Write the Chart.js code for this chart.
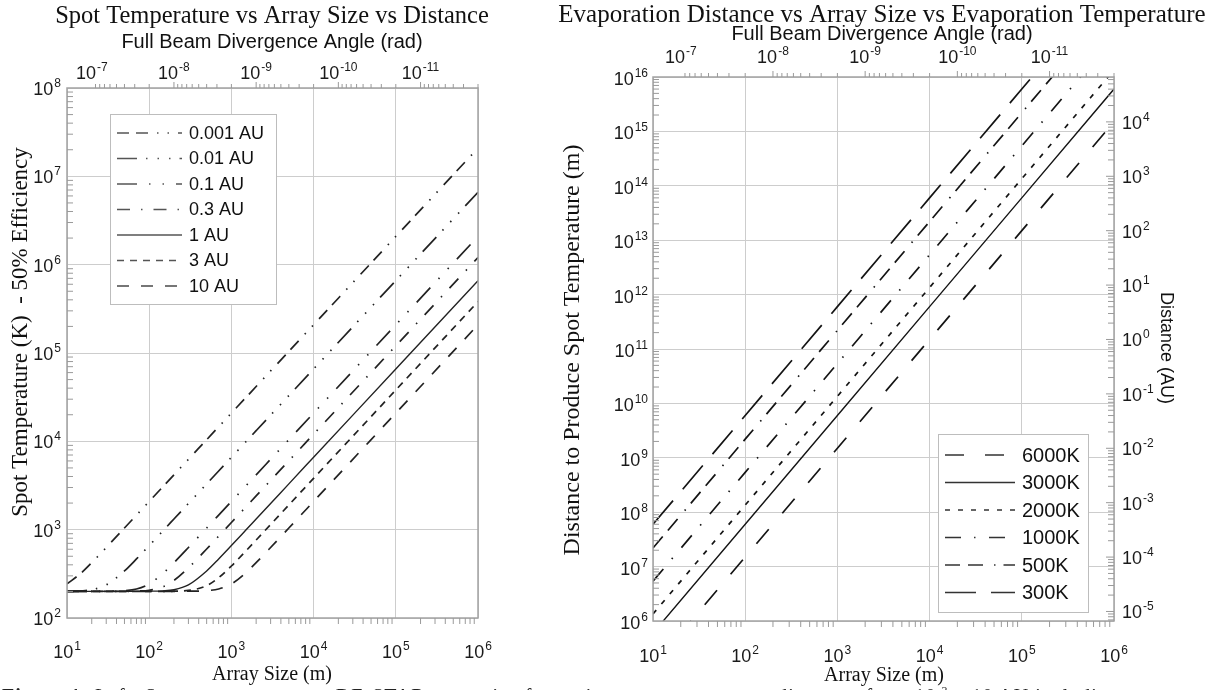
<!DOCTYPE html>
<html><head><meta charset="utf-8">
<script src="https://cdn.jsdelivr.net/npm/chart.js@4.4.1/dist/chart.umd.min.js"></script>
<style>
html,body{margin:0;padding:0;background:#fff;width:1220px;height:690px;overflow:hidden;position:relative;}
#wrapL{position:absolute;left:0;top:0;width:545px;height:690px;}
#wrapR{position:absolute;left:545px;top:0;width:675px;height:690px;}
canvas{display:block;}
#caption{position:absolute;left:2px;top:686px;font:20px/20px "Liberation Serif","Times New Roman",serif;color:#222;white-space:nowrap;letter-spacing:1px;}
#caption sup{font-size:12px;line-height:0;}
</style></head><body>
<div id="wrapL"><canvas id="cL" width="545" height="690"></canvas></div>
<div id="wrapR"><canvas id="cR" width="675" height="690"></canvas></div>
<div id="caption"><b>Figure 1:</b> Left: Spot temperature vs. DE-STAR array size for various source-to-target distances from 10<sup>-3</sup> – 10 AU including</div>
<script>
// ---------------- DATA ----------------
// Left panel: spot temperature (K) vs array size (m)
const ARRAY_SIZE_L = [10, 15, 20, 30, 50, 70, 100, 150, 200, 300, 500, 700, 1000, 1500, 2000, 3000, 5000, 10000, 100000, 1000000];
const SERIES_L = ['0.001 AU', '0.01 AU', '0.1 AU', '0.3 AU', '1 AU', '3 AU', '10 AU'];
const T_0001AU = [243, 325, 423, 628, 1044, 1461, 2088, 3132, 4175, 6263, 10438, 14614, 20877, 31315, 41754, 62630, 104384, 208768, 2088000, 20880000];
const T_001AU  = [201, 203, 209, 237, 341, 466, 661, 990, 1320, 1980, 3300, 4620, 6600, 9900, 13200, 19800, 33000, 66000, 660000, 6600000];
const T_01AU   = [200, 200, 200, 201, 204, 213, 243, 325, 423, 628, 1044, 1461, 2087, 3131, 4174, 6261, 10435, 20870, 208700, 2087000];
const T_03AU   = [200, 200, 200, 200, 200, 202, 206, 227, 266, 370, 604, 844, 1205, 1808, 2410, 3615, 6025, 12050, 120500, 1205000];
const T_1AU    = [200, 200, 200, 200, 200, 200, 201, 203, 209, 237, 341, 466, 661, 990, 1320, 1980, 3300, 6600, 66000, 660000];
const T_3AU    = [200, 200, 200, 200, 200, 200, 200, 200, 201, 205, 232, 286, 388, 573, 763, 1143, 1905, 3810, 38100, 381000];
const T_10AU   = [200, 200, 200, 200, 200, 200, 200, 200, 200, 201, 204, 213, 243, 325, 423, 628, 1044, 2087, 20870, 208700];
const TEMPS_L = [T_0001AU, T_001AU, T_01AU, T_03AU, T_1AU, T_3AU, T_10AU];

// Right panel: distance (m) vs array size (m)
const ARRAY_SIZE_R = [10, 100, 1000, 10000, 100000, 1000000];
const SERIES_R = ['6000K', '3000K', '2000K', '1000K', '500K', '300K'];
const D_6000K = [1.5e5, 1.5e7, 1.5e9, 1.5e11, 1.5e13, 1.5e15];
const D_3000K = [6.0e5, 6.0e7, 6.0e9, 6.0e11, 6.0e13, 6.0e15];
const D_2000K = [1.35e6, 1.35e8, 1.35e10, 1.35e12, 1.35e14, 1.35e16];
const D_1000K = [5.4e6, 5.4e8, 5.4e10, 5.4e12, 5.4e14, 5.4e16];
const D_500K  = [2.2e7, 2.2e9, 2.2e11, 2.2e13, 2.2e15, 2.2e17];
const D_300K  = [6.0e7, 6.0e9, 6.0e11, 6.0e13, 6.0e15, 6.0e17];
const DIST_R = [D_6000K, D_3000K, D_2000K, D_1000K, D_500K, D_300K];

// Tick labels (exponents of ten)
const X_EXPS = [1, 2, 3, 4, 5, 6];
const Y_EXPS_L = [2, 3, 4, 5, 6, 7, 8];
const Y_EXPS_R = [6, 7, 8, 9, 10, 11, 12, 13, 14, 15, 16];
const ANGLE_EXPS = [-7, -8, -9, -10, -11];
const AU_EXPS = [-5, -4, -3, -2, -1, 0, 1, 2, 3, 4];
const ANGLE_RANGE = [2e-12, 2e-7];   // divergence angle at array 1e6 m and 10 m
const AU_IN_M = 1.496e11;

// ---------------- STYLES ----------------
const SANS = '"Liberation Sans", Arial, Helvetica, sans-serif';
const SERIF = '"Liberation Serif", "Times New Roman", serif';
const DASH_L = [[12,7,12,9,1.5,9,1.5,9],[20,9,1.5,10,1.5,10,1.5,9],[20,12,1.5,12,1.5,12],[13,11,1.5,11],[],[7,6],[12,12]];
const DASH_R = [[19,21],[],[5,8],[16,13,1.5,13.5],[15,8,15,11,1.5,8],[31,15]];

Chart.defaults.font.family = SANS;

function decades(a, b) { const t = []; for (let e = a; e <= b; e++) t.push({value: Math.pow(10, e)}); return t; }

function logAxis(pos, min, max, ticksFn, grid, extra) {
  return Object.assign({
    type: 'logarithmic', position: pos, min: min, max: max, bounds: 'data',
    afterBuildTicks: s => { if (ticksFn) s.ticks = ticksFn(); },
    ticks: {display: false},
    grid: grid ? {display: true, color: '#cdcdcd', lineWidth: 1, drawTicks: false} : {display: false, drawTicks: false},
    border: {display: false},
    afterFit: s => { if (pos === 'left' || pos === 'right') s.width = 0; else s.height = 0; }
  }, extra || {});
}

function drawPow(ctx, exp, x, y, align) {
  const big = '18px ' + SANS, small = '12px ' + SANS;
  ctx.font = big; const wb = ctx.measureText('10').width;
  ctx.font = small; const we = ctx.measureText(String(exp)).width;
  const total = wb + 1 + we;
  let x0 = x;
  if (align === 'center') x0 = x - total / 2; else if (align === 'right') x0 = x - total;
  ctx.textAlign = 'left'; ctx.textBaseline = 'alphabetic'; ctx.fillStyle = '#1a1a1a';
  ctx.font = big; ctx.fillText('10', x0, y);
  ctx.font = small; ctx.fillText(String(exp), x0 + wb + 1, y - 8);
}

function eachMinor(scale, lo, hi, fn) {
  for (let n = lo; n <= hi; n++) for (let k = 1; k <= 9; k++) {
    const v = k * Math.pow(10, n);
    if (v < scale.min * 0.9999 || v > scale.max * 1.0001) continue;
    fn(scale.getPixelForValue(v), k === 1);
  }
}

function tickLine(ctx, x1, y1, x2, y2) { ctx.beginPath(); ctx.moveTo(x1, y1); ctx.lineTo(x2, y2); ctx.stroke(); }

function text(ctx, s, x, y, font, align, rot) {
  ctx.save(); ctx.translate(x, y); if (rot) ctx.rotate(rot);
  ctx.font = font; ctx.fillStyle = '#111'; ctx.textAlign = align || 'center'; ctx.textBaseline = 'alphabetic';
  ctx.fillText(s, 0, 0); ctx.restore();
}

function drawLegend(ctx, box, rows, labels, dashes, x1, x2, tx, font, color, lw) {
  ctx.save();
  ctx.fillStyle = '#fff'; ctx.fillRect(box[0], box[1], box[2] - box[0], box[3] - box[1]);
  ctx.strokeStyle = '#bdbdbd'; ctx.lineWidth = 1;
  ctx.strokeRect(box[0] + 0.5, box[1] + 0.5, box[2] - box[0], box[3] - box[1]);
  labels.forEach((lab, i) => {
    const y = rows[0] + i * rows[1];
    ctx.strokeStyle = color; ctx.lineWidth = lw; ctx.setLineDash(dashes[i]);
    tickLine(ctx, x1, y, x2, y);
    ctx.setLineDash([]);
    ctx.font = font; ctx.fillStyle = '#111'; ctx.textAlign = 'left'; ctx.textBaseline = 'middle';
    ctx.fillText(lab, tx, y + 1);
  });
  ctx.restore();
}

const frame = {
  id: 'frame',
  afterDatasetsDraw(chart) {
    const {ctx, chartArea: a} = chart;
    ctx.save(); ctx.strokeStyle = '#a3a3a3'; ctx.lineWidth = 1.5;
    ctx.strokeRect(a.left, a.top, a.right - a.left, a.bottom - a.top);
    ctx.restore();
  }
};

// ---------------- LEFT CHART ----------------
const decorL = {
  id: 'decorL',
  afterDraw(chart) {
    const {ctx, chartArea: a, scales} = chart;
    const xs = scales.x, ys = scales.y, xt = scales.xTop;
    ctx.save();
    ctx.strokeStyle = '#9a9a9a'; ctx.lineWidth = 1;
    eachMinor(ys, 2, 7, (p, maj) => { if (!maj) tickLine(ctx, a.left, p, a.left + 6, p); });
    eachMinor(xs, 1, 5, (p, maj) => { if (!maj) tickLine(ctx, p, a.bottom, p, a.bottom + 6); });
    eachMinor(xt, -12, -8, (p, maj) => tickLine(ctx, p, a.top, p, a.top - (maj ? 6 : 4)));
    ctx.restore();
    Y_EXPS_L.forEach(e => drawPow(ctx, e, 61, ys.getPixelForValue(Math.pow(10, e)) + 7, 'right'));
    X_EXPS.forEach(e => drawPow(ctx, e, xs.getPixelForValue(Math.pow(10, e)), 658, 'center'));
    ANGLE_EXPS.forEach(e => drawPow(ctx, e, xt.getPixelForValue(Math.pow(10, e)), 79, 'center'));
    text(ctx, 'Spot Temperature vs Array Size vs Distance', 272, 23, '24.5px ' + SERIF);
    text(ctx, 'Full Beam Divergence Angle (rad)', 272, 48, '20px ' + SANS);
    text(ctx, 'Array Size (m)', 272, 680, '20px ' + SERIF);
    text(ctx, 'Spot Temperature (K)  - 50% Efficiency', 27, 332, '23px ' + SERIF, 'center', -Math.PI / 2);
    drawLegend(ctx, [110, 114, 276, 304], [133, 25.5], SERIES_L, DASH_L, 117, 182, 189, '18px ' + SANS, '#555', 1.6);
  }
};

new Chart(document.getElementById('cL'), {
  type: 'line',
  data: {
    datasets: SERIES_L.map((name, i) => ({
      label: name,
      data: ARRAY_SIZE_L.map((x, j) => ({x: x, y: TEMPS_L[i][j]})),
      borderColor: '#222', borderWidth: i === 4 ? 1.4 : 1.7, borderDash: DASH_L[i],
      pointRadius: 0, fill: false, cubicInterpolationMode: 'monotone'
    }))
  },
  options: {
    responsive: false, animation: false, devicePixelRatio: 1,
    layout: {padding: {left: 67, top: 88, right: 67, bottom: 72}},
    plugins: {legend: {display: false}, tooltip: {enabled: false}, title: {display: false}},
    scales: {
      x: logAxis('bottom', 10, 1e6, () => decades(1, 6), true),
      y: logAxis('left', 1e2, 1e8, () => decades(2, 8), true),
      xTop: logAxis('top', ANGLE_RANGE[0], ANGLE_RANGE[1], null, false, {reverse: true})
    }
  },
  plugins: [frame, decorL]
});

// ---------------- RIGHT CHART ----------------
const OFF = 545;
const decorR = {
  id: 'decorR',
  afterDraw(chart) {
    const {ctx, chartArea: a, scales} = chart;
    const xs = scales.x, ys = scales.y, xt = scales.xTop, ya = scales.yAU;
    ctx.save();
    ctx.strokeStyle = '#9a9a9a'; ctx.lineWidth = 1;
    eachMinor(ys, 6, 15, (p, maj) => { if (!maj) tickLine(ctx, a.left, p, a.left + 6, p); });
    eachMinor(ya, -6, 4, (p, maj) => tickLine(ctx, a.right, p, a.right - (maj ? 8 : 6), p));
    eachMinor(xs, 1, 5, (p, maj) => { if (!maj) tickLine(ctx, p, a.bottom, p, a.bottom + 6); });
    eachMinor(xt, -12, -8, (p, maj) => tickLine(ctx, p, a.top, p, a.top - (maj ? 6 : 4)));
    ctx.restore();
    Y_EXPS_R.forEach(e => drawPow(ctx, e, 648 - OFF, ys.getPixelForValue(Math.pow(10, e)) + 8, 'right'));
    AU_EXPS.forEach(e => drawPow(ctx, e, 1122 - OFF, ya.getPixelForValue(Math.pow(10, e)) + 7, 'left'));
    X_EXPS.forEach(e => drawPow(ctx, e, xs.getPixelForValue(Math.pow(10, e)), 662, 'center'));
    ANGLE_EXPS.forEach(e => drawPow(ctx, e, xt.getPixelForValue(Math.pow(10, e)), 63, 'center'));
    text(ctx, 'Evaporation Distance vs Array Size vs Evaporation Temperature', 882 - OFF, 22, '25px ' + SERIF);
    text(ctx, 'Full Beam Divergence Angle (rad)', 882 - OFF, 40, '20px ' + SANS);
    text(ctx, 'Array Size (m)', 884 - OFF, 681, '20px ' + SERIF);
    text(ctx, 'Distance to Produce Spot Temperature (m)', 579 - OFF, 350, '24px ' + SERIF, 'center', -Math.PI / 2);
    text(ctx, 'Distance (AU)', 1161 - OFF, 348, '18px ' + SANS, 'center', Math.PI / 2);
    drawLegend(ctx, [938 - OFF, 434, 1088 - OFF, 612], [455, 27.5], SERIES_R, DASH_R, 945 - OFF, 1015 - OFF, 1022 - OFF, '20px ' + SANS, '#333', 1.6);
  }
};

new Chart(document.getElementById('cR'), {
  type: 'line',
  data: {
    datasets: SERIES_R.map((name, i) => ({
      label: name,
      data: ARRAY_SIZE_R.map((x, j) => ({x: x, y: DIST_R[i][j]})),
      borderColor: '#141414', borderWidth: i === 1 ? 1.4 : 1.7, borderDash: DASH_R[i],
      pointRadius: 0, fill: false, tension: 0
    }))
  },
  options: {
    responsive: false, animation: false, devicePixelRatio: 1,
    layout: {padding: {left: 108, top: 77, right: 106, bottom: 69}},
    plugins: {legend: {display: false}, tooltip: {enabled: false}, title: {display: false}},
    scales: {
      x: logAxis('bottom', 10, 1e6, () => decades(1, 6), true),
      y: logAxis('left', 1e6, 1e16, () => decades(6, 16), true),
      xTop: logAxis('top', ANGLE_RANGE[0], ANGLE_RANGE[1], null, false, {reverse: true}),
      yAU: logAxis('right', 1e6 / AU_IN_M, 1e16 / AU_IN_M, null, false)
    }
  },
  plugins: [frame, decorR]
});
</script>
</body></html>
